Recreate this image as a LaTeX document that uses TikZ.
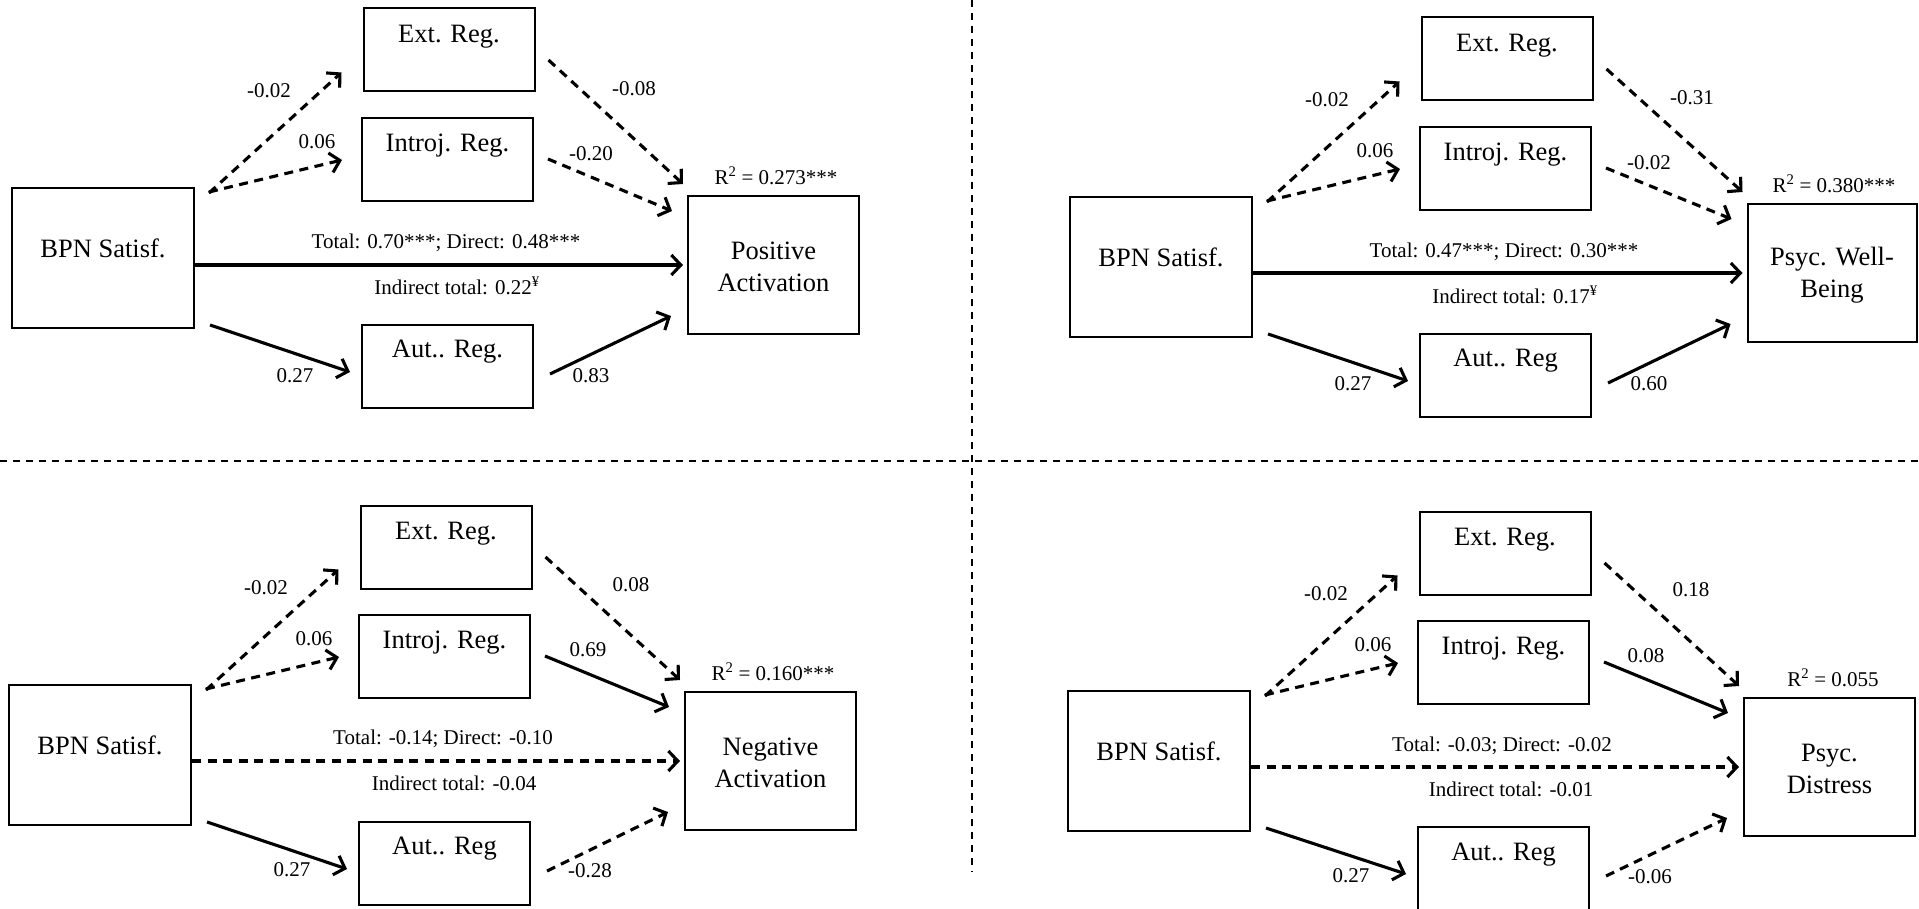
\documentclass[tikz,border=0pt]{standalone}
\usepackage{fontspec}
\setmainfont{Liberation Serif}
\usetikzlibrary{arrows.meta,calc}

\tikzset{
  box/.style={draw, line width=2pt, inner sep=0pt},
  medbox/.style={box, minimum width=171pt, minimum height=83pt},
  srcbox/.style={box, minimum width=182pt, minimum height=140pt},
  outbox/.style={box, minimum width=171pt, minimum height=138pt},
  boxtext/.style={font=\fontsize{26.5}{32}\selectfont, align=center, inner sep=0pt},
  coef/.style={font=\fontsize{21}{25}\selectfont, inner sep=0pt},
  link/.style={line width=3.1pt, -{Straight Barb[length=9.5pt,width=20pt]}},
  sig/.style={link},
  ns/.style={link, dash pattern=on 9pt off 6.5pt},
  divider/.style={line width=2pt, dash pattern=on 7pt off 6pt},
}

\begin{document}
\begin{tikzpicture}[x=1pt, y=-1pt]
\useasboundingbox (0,0) rectangle (1919,909);

% quadrant separators
\draw[divider] (0,461) -- (1919,461);
\draw[divider] (972,0) -- (972,872);

% ---------- Positive Activation ----------
\begin{scope}[shift={(12,188)}]
  \node[srcbox] (s1) at (91,70) {};
  \node[medbox] (e1) at (437,-138) {};
  \node[medbox] (i1) at (435.5,-28.5) {};
  \node[medbox] (a1) at (435.5,178) {};
  \node[outbox] (o1) at (761.5,77) {};
  \node[boxtext] (s1t) at (91,60) {BPN Satisf.};
  \node[boxtext] (e1t) at (437,-151) {Ext. Reg.};
  \node[boxtext] (i1t) at (435.5,-42) {Introj. Reg.};
  \node[boxtext] (a1t) at (435.5,164) {Aut.. Reg.};
  \node[boxtext] (o1t) at (761.5,79) {Positive\\Activation};
  \draw[ns]  ($(s1.north east)+(14,6)$) -- ($(e1.south west)+(-21,-20)$);
  \draw[ns]  ($(s1.north east)+(14,5)$) -- ($(i1.west)+(-19,0.5)$);
  \draw[ns]  ($(e1.east)+(13,10)$) -- ($(o1.north west)+(-4,-11)$);
  \draw[ns]  ($(i1.east)+(14,-0.5)$) -- ($(o1.north west)+(-15,16)$);
  \draw[sig] (s1.east |- o1.west) -- ($(o1.west)+(-4,0)$);
  \draw[sig] ($(s1.south east)+(15,-4)$) -- ($(a1.west)+(-11,6)$);
  \draw[sig] ($(a1.east)+(16,8)$) -- ($(o1.south west)+(-16,-19)$);
  \node[coef] (c11) at (257,-97) {-0.02};
  \node[coef] (c12) at (305,-46) {0.06};
  \node[coef] (c13) at (622,-99) {-0.08};
  \node[coef] (c14) at (579,-34) {-0.20};
  \node[coef] (c15) at (434,55) {Total: 0.70***; Direct: 0.48***};
  \node[coef] (c16) at (445,98) {Indirect total: 0.22\textsuperscript{¥}};
  \node[coef] (c17) at (283,188) {0.27};
  \node[coef] (c18) at (579,188) {0.83};
  \node[coef] (c19) at (764,-12) {R\textsuperscript{2} = 0.273***};
\end{scope}

% ---------- Psychological Well-Being ----------
\begin{scope}[shift={(1070,197)}]
  \node[srcbox] (s2) at (91,70) {};
  \node[medbox] (e2) at (437,-138) {};
  \node[medbox] (i2) at (435.5,-28.5) {};
  \node[medbox] (a2) at (435.5,178) {};
  \node[outbox, minimum width=169pt] (o2) at (762,76) {};
  \node[boxtext] (s2t) at (91,60) {BPN Satisf.};
  \node[boxtext] (e2t) at (437,-151) {Ext. Reg.};
  \node[boxtext] (i2t) at (435.5,-42) {Introj. Reg.};
  \node[boxtext] (a2t) at (435.5,164) {Aut.. Reg};
  \node[boxtext] (o2t) at (762,78) {Psyc. Well-\\Being};
  \draw[ns]  ($(s2.north east)+(14,6)$) -- ($(e2.south west)+(-21,-20)$);
  \draw[ns]  ($(s2.north east)+(14,5)$) -- ($(i2.west)+(-19,0.5)$);
  \draw[ns]  ($(e2.east)+(13,10)$) -- ($(o2.north west)+(-4,-11)$);
  \draw[ns]  ($(i2.east)+(14,-0.5)$) -- ($(o2.north west)+(-15,16)$);
  \draw[sig] (s2.east |- o2.west) -- ($(o2.west)+(-4,0)$);
  \draw[sig] ($(s2.south east)+(15,-4)$) -- ($(a2.west)+(-11,6)$);
  \draw[sig] ($(a2.east)+(16,8)$) -- ($(o2.south west)+(-16,-19)$);
  \node[coef] (c21) at (257,-97) {-0.02};
  \node[coef] (c22) at (305,-46) {0.06};
  \node[coef] (c23) at (622,-99) {-0.31};
  \node[coef] (c24) at (579,-34) {-0.02};
  \node[coef] (c25) at (434,55) {Total: 0.47***; Direct: 0.30***};
  \node[coef] (c26) at (445,98) {Indirect total: 0.17\textsuperscript{¥}};
  \node[coef] (c27) at (283,187) {0.27};
  \node[coef] (c28) at (579,187) {0.60};
  \node[coef] (c29) at (764,-13) {R\textsuperscript{2} = 0.380***};
\end{scope}

% ---------- Negative Activation ----------
\begin{scope}[shift={(9,685)}]
  \node[srcbox] (s3) at (91,70) {};
  \node[medbox] (e3) at (437,-138) {};
  \node[medbox] (i3) at (435.5,-28.5) {};
  \node[medbox] (a3) at (435.5,178) {};
  \node[outbox] (o3) at (761.5,76) {};
  \node[boxtext] (s3t) at (91,60) {BPN Satisf.};
  \node[boxtext] (e3t) at (437,-151) {Ext. Reg.};
  \node[boxtext] (i3t) at (435.5,-42) {Introj. Reg.};
  \node[boxtext] (a3t) at (435.5,164) {Aut.. Reg};
  \node[boxtext] (o3t) at (761.5,78) {Negative\\Activation};
  \draw[ns]  ($(s3.north east)+(14,6)$) -- ($(e3.south west)+(-21,-20)$);
  \draw[ns]  ($(s3.north east)+(14,5)$) -- ($(i3.west)+(-19,0.5)$);
  \draw[ns]  ($(e3.east)+(13,10)$) -- ($(o3.north west)+(-4,-11)$);
  \draw[sig] ($(i3.east)+(14,-0.5)$) -- ($(o3.north west)+(-15,16)$);
  \draw[ns]  (s3.east |- o3.west) -- ($(o3.west)+(-4,0)$);
  \draw[sig] ($(s3.south east)+(15,-4)$) -- ($(a3.west)+(-11,6)$);
  \draw[ns]  ($(a3.east)+(16,8)$) -- ($(o3.south west)+(-16,-19)$);
  \node[coef] (c31) at (257,-97) {-0.02};
  \node[coef] (c32) at (305,-46) {0.06};
  \node[coef] (c33) at (622,-100) {0.08};
  \node[coef] (c34) at (579,-35) {0.69};
  \node[coef] (c35) at (434,54) {Total: -0.14; Direct: -0.10};
  \node[coef] (c36) at (445,98) {Indirect total: -0.04};
  \node[coef] (c37) at (283,185) {0.27};
  \node[coef] (c38) at (581,186) {-0.28};
  \node[coef] (c39) at (764,-13) {R\textsuperscript{2} = 0.160***};
\end{scope}

% ---------- Psychological Distress ----------
\begin{scope}[shift={(1068,691)}]
  \node[srcbox] (s4) at (91,70) {};
  \node[medbox] (e4) at (437,-138) {};
  \node[medbox] (i4) at (435.5,-28.5) {};
  \node[medbox] (a4) at (435.5,177) {};
  \node[outbox] (o4) at (761.5,76) {};
  \node[boxtext] (s4t) at (91,60) {BPN Satisf.};
  \node[boxtext] (e4t) at (437,-151) {Ext. Reg.};
  \node[boxtext] (i4t) at (435.5,-42) {Introj. Reg.};
  \node[boxtext] (a4t) at (435.5,164) {Aut.. Reg};
  \node[boxtext] (o4t) at (761.5,78) {Psyc.\\Distress};
  \draw[ns]  ($(s4.north east)+(14,6)$) -- ($(e4.south west)+(-21,-20)$);
  \draw[ns]  ($(s4.north east)+(14,5)$) -- ($(i4.west)+(-19,0.5)$);
  \draw[ns]  ($(e4.east)+(13,10)$) -- ($(o4.north west)+(-4,-11)$);
  \draw[sig] ($(i4.east)+(14,-0.5)$) -- ($(o4.north west)+(-15,16)$);
  \draw[ns]  (s4.east |- o4.west) -- ($(o4.west)+(-4,0)$);
  \draw[sig] ($(s4.south east)+(15,-4)$) -- ($(a4.west)+(-11,6)$);
  \draw[ns]  ($(a4.east)+(16,8)$) -- ($(o4.south west)+(-16,-19)$);
  \node[coef] (c41) at (258,-97) {-0.02};
  \node[coef] (c42) at (305,-46) {0.06};
  \node[coef] (c43) at (623,-101) {0.18};
  \node[coef] (c44) at (578,-35) {0.08};
  \node[coef] (c45) at (434,55) {Total: -0.03; Direct: -0.02};
  \node[coef] (c46) at (443,98) {Indirect total: -0.01};
  \node[coef] (c47) at (283,185) {0.27};
  \node[coef] (c48) at (582,186) {-0.06};
  \node[coef] (c49) at (765,-13) {R\textsuperscript{2} = 0.055};
\end{scope}
\end{tikzpicture}
\end{document}
